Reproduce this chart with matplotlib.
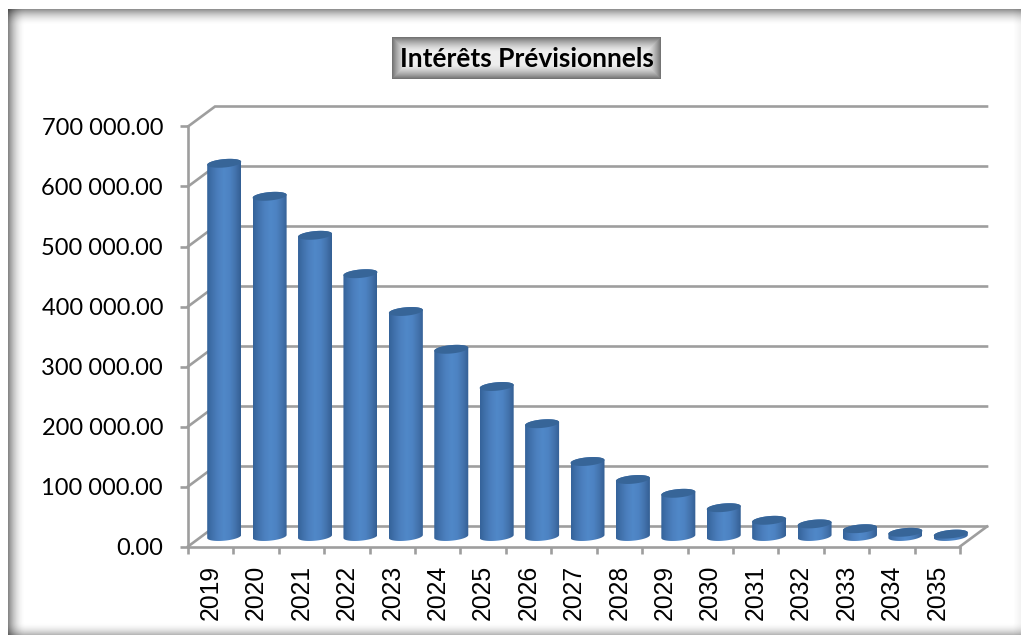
import numpy as np
import matplotlib
matplotlib.use("Agg")
import matplotlib.pyplot as plt
from matplotlib.colors import LinearSegmentedColormap
from matplotlib.patches import Polygon

years = ["2019","2020","2021","2022","2023","2024","2025","2026","2027","2028","2029","2030","2031","2032","2033","2034","2035"]
interets = [622000,567000,502000,438000,375000,312000,250000,188000,125000,95000,72000,48000,27000,21000,13000,7000,4000]
yticks = [0,100000,200000,300000,400000,500000,600000,700000]
ylabels = ["0.00","100 000.00","200 000.00","300 000.00","400 000.00","500 000.00","600 000.00","700 000.00"]
title = "Intérêts Prévisionnels"

W, H = 1021, 635
GREY = "#9e9e9e"
fig = plt.figure(figsize=(W/100, H/100), dpi=100)

# page background with the shadowed frame, in pixels
bg = fig.add_axes([0, 0, 1, 1], zorder=0)
bg.set_xlim(0, W)
bg.set_ylim(H, 0)
bg.axis("off")
xx, yy = np.meshgrid(np.arange(W) + 0.5, np.arange(H) + 0.5)
left = 0.50 * np.clip(1 - (xx - 8) / 18, 0, 1)**2
top = 0.46 * np.clip(1 - (yy - 9) / 17, 0, 1)**2
bottom = 0.30 * np.clip(1 - (635 - yy) / 13, 0, 1)**2
right = 0.06 * np.clip(1 - (1021 - xx) / 9, 0, 1)
shade = 1 - (1 - left) * (1 - top) * (1 - bottom) * (1 - right)
shade[(xx < 8) | (yy < 9)] = 0
bg.imshow(shade, cmap="gray_r", vmin=0, vmax=1, extent=(0, W, H, 0), aspect="auto", interpolation="nearest")

# title box with inner glow
bx0, bx1, by0, by1 = 392, 661, 37, 79
tx, ty = np.meshgrid(np.arange(bx0, bx1) + 0.5, np.arange(by0, by1) + 0.5)
edge = np.minimum.reduce([tx - bx0, bx1 - tx, ty - by0, by1 - ty])
glow = 0.50 * np.clip(1 - edge / 15, 0, 1)**1.5 + 0.07
bg.imshow(glow, cmap="gray_r", vmin=0, vmax=1, extent=(bx0, bx1, by1, by0), aspect="auto", interpolation="nearest")
bg.set_xlim(0, W)
bg.set_ylim(H, 0)
bg.text((bx0 + bx1) / 2, 59, title, family="Lato", weight="bold", fontsize=19, color="black", ha="center", va="center")

# chart: the front plane of the 3d box is the axes
ax_l, ax_r, ax_t, ax_b = 188, 960, 126.5, 546.5
ax = fig.add_axes([ax_l/W, 1 - ax_b/H, (ax_r - ax_l)/W, (ax_b - ax_t)/H], zorder=1)
ax.patch.set_alpha(0)
n = len(years)
px_x = n / (ax_r - ax_l)
px_y = 700000 / (ax_b - ax_t)
dep_x = 27 * px_x
dep_y = 20 * px_y

for v in yticks:
    ax.plot([0, dep_x, n + dep_x], [v, v + dep_y, v + dep_y], color=GREY, lw=1.9, clip_on=False, zorder=1, solid_joinstyle="miter")
ax.plot([n, n + dep_x], [0, dep_y], color=GREY, lw=1.9, clip_on=False, zorder=1)

# cylinders, tilted ellipses top and bottom
a = 17 * px_x
b = 4.2 * px_y
k = 1.5 * px_y
cmap = LinearSegmentedColormap.from_list("cyl", ["#35639a", "#4273ae", "#4c80bf", "#5088c8", "#4d83c3", "#4474ae", "#345f94"])
grad = np.linspace(0, 1, 64).reshape(1, -1)
t = np.linspace(0, 2 * np.pi, 80)
for i, v in enumerate(interets):
    cx = i + 0.5 + dep_x / 2
    y0 = dep_y / 2
    y1 = v + dep_y / 2
    low = np.linspace(np.pi, 2 * np.pi, 40)
    up = np.linspace(0, np.pi, 40)
    body_x = np.r_[cx + a * np.cos(low), cx + a * np.cos(up)]
    body_y = np.r_[y0 + b * np.sin(low) + k * np.cos(low), y1 + b * np.sin(up) + k * np.cos(up)]
    body = Polygon(np.c_[body_x, body_y], closed=True, transform=ax.transData, fc="none", ec="none", zorder=2, clip_on=False)
    ax.add_patch(body)
    im = ax.imshow(grad, cmap=cmap, extent=(cx - a, cx + a, y0 - 2 * b, y1 + 2 * b), aspect="auto", zorder=3, interpolation="bilinear")
    im.set_clip_path(body)
    im.set_clip_box(fig.bbox)
    ax.fill(cx + a * np.cos(t), y1 + b * np.sin(t) + k * np.cos(t), color="#376598", lw=0, zorder=4, clip_on=False)

ax.set_xlim(0, n)
ax.set_ylim(0, 700000)
for s in ("top", "right"):
    ax.spines[s].set_visible(False)
for s in ("left", "bottom"):
    ax.spines[s].set_color(GREY)
    ax.spines[s].set_linewidth(1.9)

ax.set_yticks(yticks)
ax.set_yticklabels(ylabels, family="Lato", fontsize=17, color="black")
ax.tick_params(axis="y", length=6, width=1.9, color=GREY, pad=12)
ax.set_xticks(np.arange(n + 1))
ax.set_xticklabels([])
ax.tick_params(axis="x", which="major", length=5, width=1.9, color=GREY)
ax.set_xticks(np.arange(n) + 0.5, minor=True)
ax.set_xticklabels(years, minor=True, rotation=90, family="Liberation Sans", fontsize=17.8, color="black")
ax.tick_params(axis="x", which="minor", length=0, pad=13)

fig.savefig("out.png", dpi=100)
